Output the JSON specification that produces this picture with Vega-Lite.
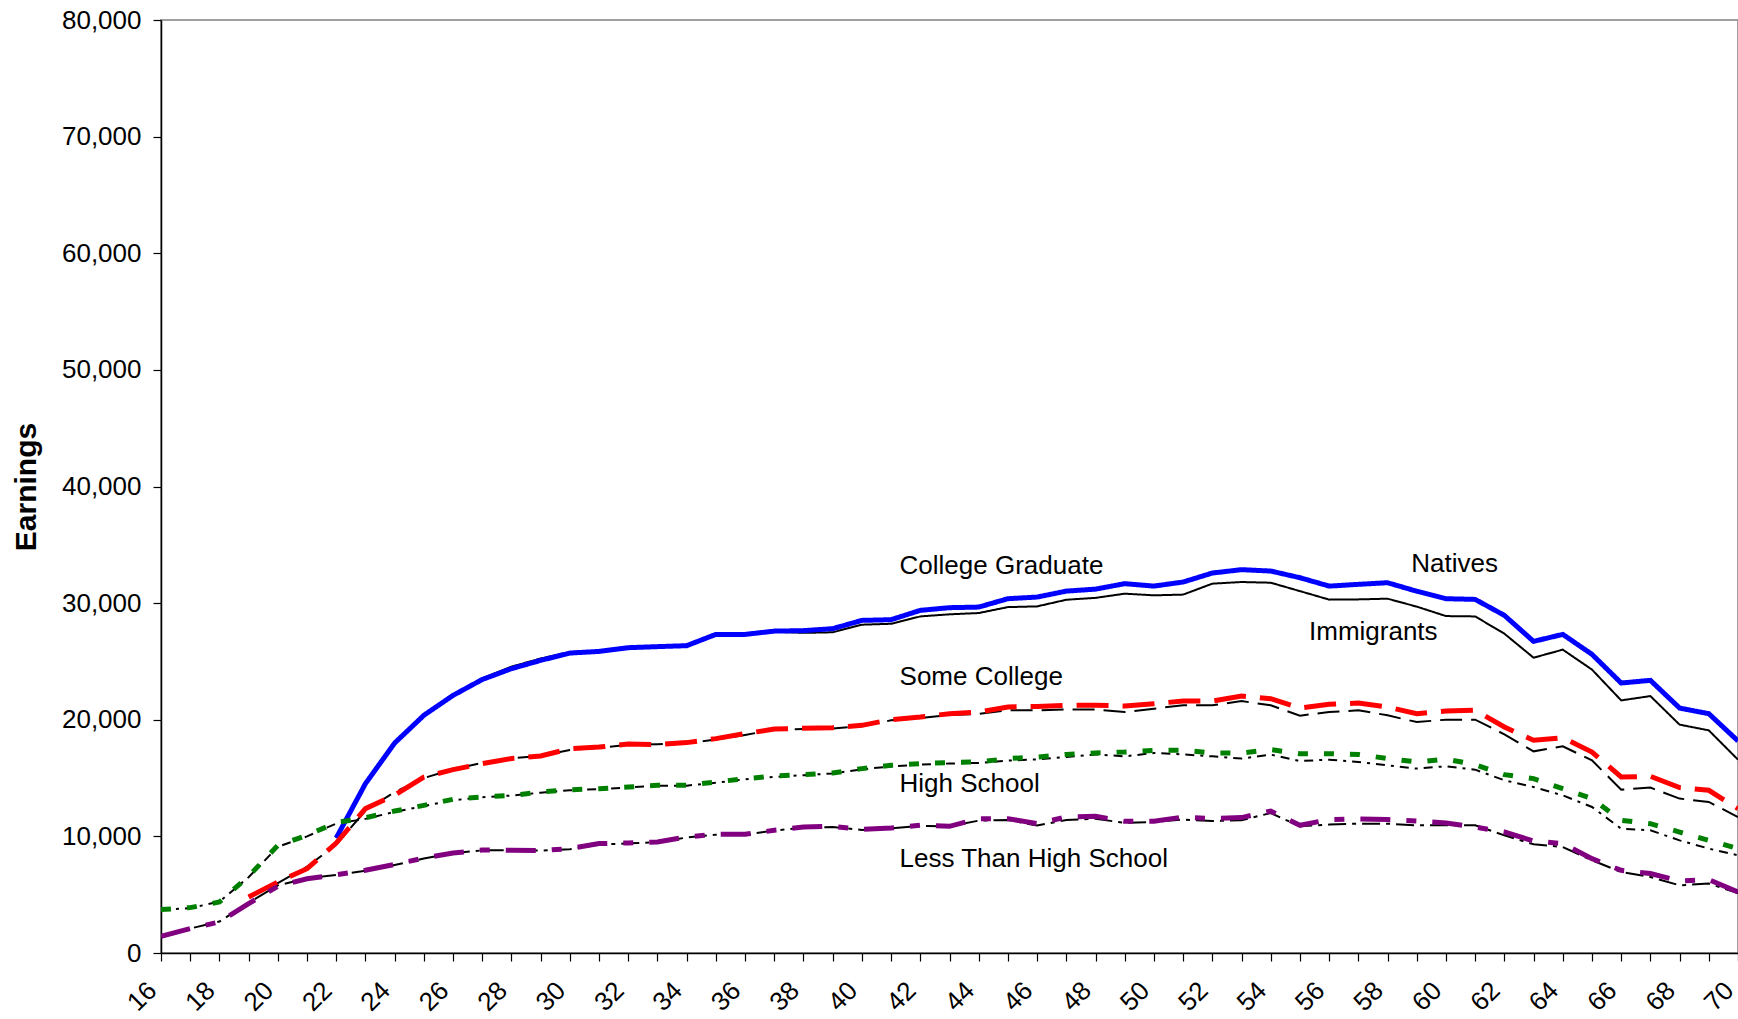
{
  "$schema": "https://vega.github.io/schema/vega-lite/v6.json",
  "width": 1577,
  "height": 933,
  "autosize": {"type": "none"},
  "padding": {"left": 161, "top": 20, "right": 0, "bottom": 66},
  "background": "white",
  "config": {
    "view": {"stroke": "#808080", "strokeWidth": 1.5},
    "font": "Liberation Sans",
    "axis": {"grid": false, "domainColor": "black", "tickColor": "black", "labelColor": "black", "titleColor": "black", "labelFont": "Liberation Sans", "titleFont": "Liberation Sans", "domainWidth": 1.5, "tickWidth": 1.2}
  },
  "datasets": {
    "earn": [
      {"age":22,"series":"Natives College","earnings":9860},{"age":23,"series":"Natives College","earnings":14520},{"age":24,"series":"Natives College","earnings":18000},{"age":25,"series":"Natives College","earnings":20380},{"age":26,"series":"Natives College","earnings":22090},{"age":27,"series":"Natives College","earnings":23450},{"age":28,"series":"Natives College","earnings":24380},{"age":29,"series":"Natives College","earnings":25090},{"age":30,"series":"Natives College","earnings":25720},{"age":31,"series":"Natives College","earnings":25860},{"age":32,"series":"Natives College","earnings":26180},{"age":33,"series":"Natives College","earnings":26270},{"age":34,"series":"Natives College","earnings":26350},{"age":35,"series":"Natives College","earnings":27320},{"age":36,"series":"Natives College","earnings":27320},{"age":37,"series":"Natives College","earnings":27600},{"age":38,"series":"Natives College","earnings":27640},{"age":39,"series":"Natives College","earnings":27810},{"age":40,"series":"Natives College","earnings":28520},{"age":41,"series":"Natives College","earnings":28580},{"age":42,"series":"Natives College","earnings":29380},{"age":43,"series":"Natives College","earnings":29610},{"age":44,"series":"Natives College","earnings":29660},{"age":45,"series":"Natives College","earnings":30380},{"age":46,"series":"Natives College","earnings":30520},{"age":47,"series":"Natives College","earnings":31030},{"age":48,"series":"Natives College","earnings":31200},{"age":49,"series":"Natives College","earnings":31670},{"age":50,"series":"Natives College","earnings":31460},{"age":51,"series":"Natives College","earnings":31810},{"age":52,"series":"Natives College","earnings":32580},{"age":53,"series":"Natives College","earnings":32870},{"age":54,"series":"Natives College","earnings":32750},{"age":55,"series":"Natives College","earnings":32180},{"age":56,"series":"Natives College","earnings":31460},{"age":57,"series":"Natives College","earnings":31610},{"age":58,"series":"Natives College","earnings":31750},{"age":59,"series":"Natives College","earnings":31020},{"age":60,"series":"Natives College","earnings":30380},{"age":61,"series":"Natives College","earnings":30320},{"age":62,"series":"Natives College","earnings":28950},{"age":63,"series":"Natives College","earnings":26720},{"age":64,"series":"Natives College","earnings":27320},{"age":65,"series":"Natives College","earnings":25610},{"age":66,"series":"Natives College","earnings":23150},{"age":67,"series":"Natives College","earnings":23380},{"age":68,"series":"Natives College","earnings":21000},{"age":69,"series":"Natives College","earnings":20520},{"age":70,"series":"Natives College","earnings":18180},

      {"age":22,"series":"Immigrants College","earnings":9860},{"age":23,"series":"Immigrants College","earnings":14520},{"age":24,"series":"Immigrants College","earnings":18000},{"age":25,"series":"Immigrants College","earnings":20380},{"age":26,"series":"Immigrants College","earnings":22090},{"age":27,"series":"Immigrants College","earnings":23550},{"age":28,"series":"Immigrants College","earnings":24550},{"age":29,"series":"Immigrants College","earnings":25250},{"age":30,"series":"Immigrants College","earnings":25800},{"age":31,"series":"Immigrants College","earnings":25900},{"age":32,"series":"Immigrants College","earnings":26150},{"age":33,"series":"Immigrants College","earnings":26250},{"age":34,"series":"Immigrants College","earnings":26300},{"age":35,"series":"Immigrants College","earnings":27300},{"age":36,"series":"Immigrants College","earnings":27300},{"age":37,"series":"Immigrants College","earnings":27550},{"age":38,"series":"Immigrants College","earnings":27450},{"age":39,"series":"Immigrants College","earnings":27500},{"age":40,"series":"Immigrants College","earnings":28150},{"age":41,"series":"Immigrants College","earnings":28230},{"age":42,"series":"Immigrants College","earnings":28860},{"age":43,"series":"Immigrants College","earnings":29040},{"age":44,"series":"Immigrants College","earnings":29150},{"age":45,"series":"Immigrants College","earnings":29660},{"age":46,"series":"Immigrants College","earnings":29720},{"age":47,"series":"Immigrants College","earnings":30290},{"age":48,"series":"Immigrants College","earnings":30450},{"age":49,"series":"Immigrants College","earnings":30810},{"age":50,"series":"Immigrants College","earnings":30670},{"age":51,"series":"Immigrants College","earnings":30730},{"age":52,"series":"Immigrants College","earnings":31670},{"age":53,"series":"Immigrants College","earnings":31810},{"age":54,"series":"Immigrants College","earnings":31750},{"age":55,"series":"Immigrants College","earnings":31030},{"age":56,"series":"Immigrants College","earnings":30300},{"age":57,"series":"Immigrants College","earnings":30320},{"age":58,"series":"Immigrants College","earnings":30380},{"age":59,"series":"Immigrants College","earnings":29700},{"age":60,"series":"Immigrants College","earnings":28890},{"age":61,"series":"Immigrants College","earnings":28860},{"age":62,"series":"Immigrants College","earnings":27380},{"age":63,"series":"Immigrants College","earnings":25320},{"age":64,"series":"Immigrants College","earnings":26010},{"age":65,"series":"Immigrants College","earnings":24300},{"age":66,"series":"Immigrants College","earnings":21660},{"age":67,"series":"Immigrants College","earnings":22030},{"age":68,"series":"Immigrants College","earnings":19580},{"age":69,"series":"Immigrants College","earnings":19090},{"age":70,"series":"Immigrants College","earnings":16580},

      {"age":19,"series":"Natives Some College","earnings":4800},{"age":20,"series":"Natives Some College","earnings":6090},{"age":21,"series":"Natives Some College","earnings":7230},{"age":22,"series":"Natives Some College","earnings":9430},{"age":23,"series":"Natives Some College","earnings":12380},{"age":24,"series":"Natives Some College","earnings":13530},{"age":25,"series":"Natives Some College","earnings":15090},{"age":26,"series":"Natives Some College","earnings":15720},{"age":27,"series":"Natives Some College","earnings":16240},{"age":28,"series":"Natives Some College","earnings":16670},{"age":29,"series":"Natives Some College","earnings":16890},{"age":30,"series":"Natives Some College","earnings":17520},{"age":31,"series":"Natives Some College","earnings":17660},{"age":32,"series":"Natives Some College","earnings":17920},{"age":33,"series":"Natives Some College","earnings":17870},{"age":34,"series":"Natives Some College","earnings":18040},{"age":35,"series":"Natives Some College","earnings":18380},{"age":36,"series":"Natives Some College","earnings":18810},{"age":37,"series":"Natives Some College","earnings":19200},{"age":38,"series":"Natives Some College","earnings":19270},{"age":39,"series":"Natives Some College","earnings":19320},{"age":40,"series":"Natives Some College","earnings":19520},{"age":41,"series":"Natives Some College","earnings":20010},{"age":42,"series":"Natives Some College","earnings":20230},{"age":43,"series":"Natives Some College","earnings":20520},{"age":44,"series":"Natives Some College","earnings":20660},{"age":45,"series":"Natives Some College","earnings":21090},{"age":46,"series":"Natives Some College","earnings":21140},{"age":47,"series":"Natives Some College","earnings":21240},{"age":48,"series":"Natives Some College","earnings":21250},{"age":49,"series":"Natives Some College","earnings":21180},{"age":50,"series":"Natives Some College","earnings":21380},{"age":51,"series":"Natives Some College","earnings":21600},{"age":52,"series":"Natives Some College","earnings":21600},{"age":53,"series":"Natives Some College","earnings":22030},{"age":54,"series":"Natives Some College","earnings":21810},{"age":55,"series":"Natives Some College","earnings":21000},{"age":56,"series":"Natives Some College","earnings":21320},{"age":57,"series":"Natives Some College","earnings":21430},{"age":58,"series":"Natives Some College","earnings":21090},{"age":59,"series":"Natives Some College","earnings":20520},{"age":60,"series":"Natives Some College","earnings":20750},{"age":61,"series":"Natives Some College","earnings":20810},{"age":62,"series":"Natives Some College","earnings":19380},{"age":63,"series":"Natives Some College","earnings":18240},{"age":64,"series":"Natives Some College","earnings":18460},{"age":65,"series":"Natives Some College","earnings":17230},{"age":66,"series":"Natives Some College","earnings":15090},{"age":67,"series":"Natives Some College","earnings":15150},{"age":68,"series":"Natives Some College","earnings":14180},{"age":69,"series":"Natives Some College","earnings":13950},{"age":70,"series":"Natives Some College","earnings":12380},

      {"age":19,"series":"Immigrants Some College","earnings":4900},{"age":20,"series":"Immigrants Some College","earnings":6000},{"age":21,"series":"Immigrants Some College","earnings":7400},{"age":22,"series":"Immigrants Some College","earnings":9300},{"age":23,"series":"Immigrants Some College","earnings":12200},{"age":24,"series":"Immigrants Some College","earnings":13800},{"age":25,"series":"Immigrants Some College","earnings":15000},{"age":26,"series":"Immigrants Some College","earnings":15750},{"age":27,"series":"Immigrants Some College","earnings":16300},{"age":28,"series":"Immigrants Some College","earnings":16700},{"age":29,"series":"Immigrants Some College","earnings":16900},{"age":30,"series":"Immigrants Some College","earnings":17400},{"age":31,"series":"Immigrants Some College","earnings":17600},{"age":32,"series":"Immigrants Some College","earnings":17850},{"age":33,"series":"Immigrants Some College","earnings":17900},{"age":34,"series":"Immigrants Some College","earnings":18000},{"age":35,"series":"Immigrants Some College","earnings":18300},{"age":36,"series":"Immigrants Some College","earnings":18700},{"age":37,"series":"Immigrants Some College","earnings":19150},{"age":38,"series":"Immigrants Some College","earnings":19200},{"age":39,"series":"Immigrants Some College","earnings":19250},{"age":40,"series":"Immigrants Some College","earnings":19450},{"age":41,"series":"Immigrants Some College","earnings":19950},{"age":42,"series":"Immigrants Some College","earnings":20150},{"age":43,"series":"Immigrants Some College","earnings":20400},{"age":44,"series":"Immigrants Some College","earnings":20500},{"age":45,"series":"Immigrants Some College","earnings":20810},{"age":46,"series":"Immigrants Some College","earnings":20810},{"age":47,"series":"Immigrants Some College","earnings":20890},{"age":48,"series":"Immigrants Some College","earnings":20870},{"age":49,"series":"Immigrants Some College","earnings":20660},{"age":50,"series":"Immigrants Some College","earnings":20950},{"age":51,"series":"Immigrants Some College","earnings":21240},{"age":52,"series":"Immigrants Some College","earnings":21240},{"age":53,"series":"Immigrants Some College","earnings":21600},{"age":54,"series":"Immigrants Some College","earnings":21240},{"age":55,"series":"Immigrants Some College","earnings":20350},{"age":56,"series":"Immigrants Some College","earnings":20660},{"age":57,"series":"Immigrants Some College","earnings":20810},{"age":58,"series":"Immigrants Some College","earnings":20380},{"age":59,"series":"Immigrants Some College","earnings":19800},{"age":60,"series":"Immigrants Some College","earnings":20010},{"age":61,"series":"Immigrants Some College","earnings":20010},{"age":62,"series":"Immigrants Some College","earnings":18750},{"age":63,"series":"Immigrants Some College","earnings":17290},{"age":64,"series":"Immigrants Some College","earnings":17720},{"age":65,"series":"Immigrants Some College","earnings":16520},{"age":66,"series":"Immigrants Some College","earnings":14010},{"age":67,"series":"Immigrants Some College","earnings":14180},{"age":68,"series":"Immigrants Some College","earnings":13240},{"age":69,"series":"Immigrants Some College","earnings":12950},{"age":70,"series":"Immigrants Some College","earnings":11660},

      {"age":16,"series":"Natives High School","earnings":3720},{"age":17,"series":"Natives High School","earnings":3890},{"age":18,"series":"Natives High School","earnings":4370},{"age":19,"series":"Natives High School","earnings":6580},{"age":20,"series":"Natives High School","earnings":9230},{"age":21,"series":"Natives High School","earnings":10090},{"age":22,"series":"Natives High School","earnings":11180},{"age":23,"series":"Natives High School","earnings":11600},{"age":24,"series":"Natives High School","earnings":12170},{"age":25,"series":"Natives High School","earnings":12660},{"age":26,"series":"Natives High School","earnings":13180},{"age":27,"series":"Natives High School","earnings":13380},{"age":28,"series":"Natives High School","earnings":13510},{"age":29,"series":"Natives High School","earnings":13800},{"age":30,"series":"Natives High School","earnings":14000},{"age":31,"series":"Natives High School","earnings":14090},{"age":32,"series":"Natives High School","earnings":14230},{"age":33,"series":"Natives High School","earnings":14380},{"age":34,"series":"Natives High School","earnings":14380},{"age":35,"series":"Natives High School","earnings":14660},{"age":36,"series":"Natives High School","earnings":14950},{"age":37,"series":"Natives High School","earnings":15170},{"age":38,"series":"Natives High School","earnings":15290},{"age":39,"series":"Natives High School","earnings":15430},{"age":40,"series":"Natives High School","earnings":15810},{"age":41,"series":"Natives High School","earnings":16090},{"age":42,"series":"Natives High School","earnings":16240},{"age":43,"series":"Natives High School","earnings":16330},{"age":44,"series":"Natives High School","earnings":16380},{"age":45,"series":"Natives High School","earnings":16670},{"age":46,"series":"Natives High School","earnings":16800},{"age":47,"series":"Natives High School","earnings":17030},{"age":48,"series":"Natives High School","earnings":17150},{"age":49,"series":"Natives High School","earnings":17230},{"age":50,"series":"Natives High School","earnings":17380},{"age":51,"series":"Natives High School","earnings":17380},{"age":52,"series":"Natives High School","earnings":17150},{"age":53,"series":"Natives High School","earnings":17150},{"age":54,"series":"Natives High School","earnings":17440},{"age":55,"series":"Natives High School","earnings":17090},{"age":56,"series":"Natives High School","earnings":17090},{"age":57,"series":"Natives High School","earnings":17030},{"age":58,"series":"Natives High School","earnings":16670},{"age":59,"series":"Natives High School","earnings":16380},{"age":60,"series":"Natives High School","earnings":16630},{"age":61,"series":"Natives High School","earnings":16150},{"age":62,"series":"Natives High School","earnings":15290},{"age":63,"series":"Natives High School","earnings":14950},{"age":64,"series":"Natives High School","earnings":14090},{"age":65,"series":"Natives High School","earnings":13240},{"age":66,"series":"Natives High School","earnings":11380},{"age":67,"series":"Natives High School","earnings":11090},{"age":68,"series":"Natives High School","earnings":10370},{"age":69,"series":"Natives High School","earnings":9660},{"age":70,"series":"Natives High School","earnings":8950},

      {"age":16,"series":"Immigrants High School","earnings":3700},{"age":17,"series":"Immigrants High School","earnings":3850},{"age":18,"series":"Immigrants High School","earnings":4400},{"age":19,"series":"Immigrants High School","earnings":6500},{"age":20,"series":"Immigrants High School","earnings":9100},{"age":21,"series":"Immigrants High School","earnings":10000},{"age":22,"series":"Immigrants High School","earnings":11100},{"age":23,"series":"Immigrants High School","earnings":11500},{"age":24,"series":"Immigrants High School","earnings":12100},{"age":25,"series":"Immigrants High School","earnings":12600},{"age":26,"series":"Immigrants High School","earnings":13100},{"age":27,"series":"Immigrants High School","earnings":13350},{"age":28,"series":"Immigrants High School","earnings":13500},{"age":29,"series":"Immigrants High School","earnings":13750},{"age":30,"series":"Immigrants High School","earnings":13950},{"age":31,"series":"Immigrants High School","earnings":14050},{"age":32,"series":"Immigrants High School","earnings":14200},{"age":33,"series":"Immigrants High School","earnings":14350},{"age":34,"series":"Immigrants High School","earnings":14350},{"age":35,"series":"Immigrants High School","earnings":14600},{"age":36,"series":"Immigrants High School","earnings":14900},{"age":37,"series":"Immigrants High School","earnings":15100},{"age":38,"series":"Immigrants High School","earnings":15250},{"age":39,"series":"Immigrants High School","earnings":15400},{"age":40,"series":"Immigrants High School","earnings":15750},{"age":41,"series":"Immigrants High School","earnings":16000},{"age":42,"series":"Immigrants High School","earnings":16150},{"age":43,"series":"Immigrants High School","earnings":16250},{"age":44,"series":"Immigrants High School","earnings":16300},{"age":45,"series":"Immigrants High School","earnings":16500},{"age":46,"series":"Immigrants High School","earnings":16600},{"age":47,"series":"Immigrants High School","earnings":16800},{"age":48,"series":"Immigrants High School","earnings":17030},{"age":49,"series":"Immigrants High School","earnings":16860},{"age":50,"series":"Immigrants High School","earnings":17150},{"age":51,"series":"Immigrants High School","earnings":17030},{"age":52,"series":"Immigrants High School","earnings":16860},{"age":53,"series":"Immigrants High School","earnings":16670},{"age":54,"series":"Immigrants High School","earnings":17010},{"age":55,"series":"Immigrants High School","earnings":16460},{"age":56,"series":"Immigrants High School","earnings":16580},{"age":57,"series":"Immigrants High School","earnings":16380},{"age":58,"series":"Immigrants High School","earnings":16090},{"age":59,"series":"Immigrants High School","earnings":15810},{"age":60,"series":"Immigrants High School","earnings":16010},{"age":61,"series":"Immigrants High School","earnings":15720},{"age":62,"series":"Immigrants High School","earnings":14810},{"age":63,"series":"Immigrants High School","earnings":14230},{"age":64,"series":"Immigrants High School","earnings":13520},{"age":65,"series":"Immigrants High School","earnings":12520},{"age":66,"series":"Immigrants High School","earnings":10660},{"age":67,"series":"Immigrants High School","earnings":10520},{"age":68,"series":"Immigrants High School","earnings":9660},{"age":69,"series":"Immigrants High School","earnings":8950},{"age":70,"series":"Immigrants High School","earnings":8380},

      {"age":16,"series":"Natives Less Than HS","earnings":1430},{"age":17,"series":"Natives Less Than HS","earnings":2090},{"age":18,"series":"Natives Less Than HS","earnings":2660},{"age":19,"series":"Natives Less Than HS","earnings":4230},{"age":20,"series":"Natives Less Than HS","earnings":5720},{"age":21,"series":"Natives Less Than HS","earnings":6370},{"age":22,"series":"Natives Less Than HS","earnings":6710},{"age":23,"series":"Natives Less Than HS","earnings":7090},{"age":24,"series":"Natives Less Than HS","earnings":7600},{"age":25,"series":"Natives Less Than HS","earnings":8140},{"age":26,"series":"Natives Less Than HS","earnings":8570},{"age":27,"series":"Natives Less Than HS","earnings":8830},{"age":28,"series":"Natives Less Than HS","earnings":8810},{"age":29,"series":"Natives Less Than HS","earnings":8780},{"age":30,"series":"Natives Less Than HS","earnings":8950},{"age":31,"series":"Natives Less Than HS","earnings":9380},{"age":32,"series":"Natives Less Than HS","earnings":9430},{"age":33,"series":"Natives Less Than HS","earnings":9520},{"age":34,"series":"Natives Less Than HS","earnings":9950},{"age":35,"series":"Natives Less Than HS","earnings":10180},{"age":36,"series":"Natives Less Than HS","earnings":10180},{"age":37,"series":"Natives Less Than HS","earnings":10520},{"age":38,"series":"Natives Less Than HS","earnings":10800},{"age":39,"series":"Natives Less Than HS","earnings":10860},{"age":40,"series":"Natives Less Than HS","earnings":10600},{"age":41,"series":"Natives Less Than HS","earnings":10720},{"age":42,"series":"Natives Less Than HS","earnings":10950},{"age":43,"series":"Natives Less Than HS","earnings":10860},{"age":44,"series":"Natives Less Than HS","earnings":11520},{"age":45,"series":"Natives Less Than HS","earnings":11520},{"age":46,"series":"Natives Less Than HS","earnings":11090},{"age":47,"series":"Natives Less Than HS","earnings":11660},{"age":48,"series":"Natives Less Than HS","earnings":11720},{"age":49,"series":"Natives Less Than HS","earnings":11290},{"age":50,"series":"Natives Less Than HS","earnings":11290},{"age":51,"series":"Natives Less Than HS","earnings":11660},{"age":52,"series":"Natives Less Than HS","earnings":11520},{"age":53,"series":"Natives Less Than HS","earnings":11610},{"age":54,"series":"Natives Less Than HS","earnings":12170},{"age":55,"series":"Natives Less Than HS","earnings":10950},{"age":56,"series":"Natives Less Than HS","earnings":11440},{"age":57,"series":"Natives Less Than HS","earnings":11490},{"age":58,"series":"Natives Less Than HS","earnings":11440},{"age":59,"series":"Natives Less Than HS","earnings":11320},{"age":60,"series":"Natives Less Than HS","earnings":11150},{"age":61,"series":"Natives Less Than HS","earnings":10800},{"age":62,"series":"Natives Less Than HS","earnings":10370},{"age":63,"series":"Natives Less Than HS","earnings":9600},{"age":64,"series":"Natives Less Than HS","earnings":9380},{"age":65,"series":"Natives Less Than HS","earnings":8090},{"age":66,"series":"Natives Less Than HS","earnings":7090},{"age":67,"series":"Natives Less Than HS","earnings":6810},{"age":68,"series":"Natives Less Than HS","earnings":6170},{"age":69,"series":"Natives Less Than HS","earnings":6290},{"age":70,"series":"Natives Less Than HS","earnings":5230},

      {"age":16,"series":"Immigrants Less Than HS","earnings":1450},{"age":17,"series":"Immigrants Less Than HS","earnings":2100},{"age":18,"series":"Immigrants Less Than HS","earnings":2700},{"age":19,"series":"Immigrants Less Than HS","earnings":4300},{"age":20,"series":"Immigrants Less Than HS","earnings":5800},{"age":21,"series":"Immigrants Less Than HS","earnings":6400},{"age":22,"series":"Immigrants Less Than HS","earnings":6700},{"age":23,"series":"Immigrants Less Than HS","earnings":7050},{"age":24,"series":"Immigrants Less Than HS","earnings":7550},{"age":25,"series":"Immigrants Less Than HS","earnings":8100},{"age":26,"series":"Immigrants Less Than HS","earnings":8550},{"age":27,"series":"Immigrants Less Than HS","earnings":8800},{"age":28,"series":"Immigrants Less Than HS","earnings":8800},{"age":29,"series":"Immigrants Less Than HS","earnings":8780},{"age":30,"series":"Immigrants Less Than HS","earnings":8900},{"age":31,"series":"Immigrants Less Than HS","earnings":9300},{"age":32,"series":"Immigrants Less Than HS","earnings":9400},{"age":33,"series":"Immigrants Less Than HS","earnings":9500},{"age":34,"series":"Immigrants Less Than HS","earnings":9900},{"age":35,"series":"Immigrants Less Than HS","earnings":10150},{"age":36,"series":"Immigrants Less Than HS","earnings":10150},{"age":37,"series":"Immigrants Less Than HS","earnings":10500},{"age":38,"series":"Immigrants Less Than HS","earnings":10750},{"age":39,"series":"Immigrants Less Than HS","earnings":10800},{"age":40,"series":"Immigrants Less Than HS","earnings":10550},{"age":41,"series":"Immigrants Less Than HS","earnings":10700},{"age":42,"series":"Immigrants Less Than HS","earnings":10900},{"age":43,"series":"Immigrants Less Than HS","earnings":10860},{"age":44,"series":"Immigrants Less Than HS","earnings":11350},{"age":45,"series":"Immigrants Less Than HS","earnings":11400},{"age":46,"series":"Immigrants Less Than HS","earnings":10930},{"age":47,"series":"Immigrants Less Than HS","earnings":11400},{"age":48,"series":"Immigrants Less Than HS","earnings":11520},{"age":49,"series":"Immigrants Less Than HS","earnings":11150},{"age":50,"series":"Immigrants Less Than HS","earnings":11230},{"age":51,"series":"Immigrants Less Than HS","earnings":11440},{"age":52,"series":"Immigrants Less Than HS","earnings":11320},{"age":53,"series":"Immigrants Less Than HS","earnings":11380},{"age":54,"series":"Immigrants Less Than HS","earnings":12000},{"age":55,"series":"Immigrants Less Than HS","earnings":10860},{"age":56,"series":"Immigrants Less Than HS","earnings":11010},{"age":57,"series":"Immigrants Less Than HS","earnings":11090},{"age":58,"series":"Immigrants Less Than HS","earnings":11090},{"age":59,"series":"Immigrants Less Than HS","earnings":10950},{"age":60,"series":"Immigrants Less Than HS","earnings":10950},{"age":61,"series":"Immigrants Less Than HS","earnings":10950},{"age":62,"series":"Immigrants Less Than HS","earnings":10090},{"age":63,"series":"Immigrants Less Than HS","earnings":9320},{"age":64,"series":"Immigrants Less Than HS","earnings":9090},{"age":65,"series":"Immigrants Less Than HS","earnings":7950},{"age":66,"series":"Immigrants Less Than HS","earnings":6940},{"age":67,"series":"Immigrants Less Than HS","earnings":6520},{"age":68,"series":"Immigrants Less Than HS","earnings":5800},{"age":69,"series":"Immigrants Less Than HS","earnings":5950},{"age":70,"series":"Immigrants Less Than HS","earnings":5140}
    ],
    "labels": [
      {"age":41.29,"earnings":32530,"text":"College Graduate"},
      {"age":41.29,"earnings":22950,"text":"Some College"},
      {"age":41.29,"earnings":13800,"text":"High School"},
      {"age":41.29,"earnings":7370,"text":"Less Than High School"},
      {"age":58.81,"earnings":32660,"text":"Natives"},
      {"age":55.31,"earnings":26810,"text":"Immigrants"}
    ]
  },
  "encoding": {
    "x": {
      "field": "age", "type": "quantitative",
      "scale": {"domain": [16, 70], "nice": false, "zero": false},
      "axis": {
        "title": null,
        "values": [16,17,18,19,20,21,22,23,24,25,26,27,28,29,30,31,32,33,34,35,36,37,38,39,40,41,42,43,44,45,46,47,48,49,50,51,52,53,54,55,56,57,58,59,60,61,62,63,64,65,66,67,68,69,70],
        "format": "d",
        "labelExpr": "datum.value % 2 === 0 ? datum.label : ''",
        "labelAngle": -45,
        "labelAlign": "right",
        "labelBaseline": "middle",
        "labelFontSize": 26,
        "labelPadding": 25,
        "labelOffset": -9,
        "tickSize": 8,
        "labelOverlap": false,
        "labelBound": false,
        "labelFlush": false
      }
    },
    "y": {
      "field": "earnings", "type": "quantitative",
      "scale": {"domain": [0, 80000], "nice": false},
      "axis": {
        "title": "Earnings",
        "titleFontSize": 30,
        "titleFontWeight": "bold",
        "titlePadding": 20,
        "values": [0,10000,20000,30000,40000,50000,60000,70000,80000],
        "format": ",d",
        "labelFontSize": 26,
        "labelPadding": 12,
        "tickSize": 8,
        "labelFlush": false
      }
    }
  },
  "layer": [
    {
      "data": {"name": "earn"},
      "transform": [{"filter": "indexof(datum.series, 'Immigrants') === 0"}],
      "mark": {"type": "line", "strokeWidth": 2, "strokeCap": "butt", "clip": true},
      "encoding": {
        "color": {"field": "series", "type": "nominal", "legend": null,
          "scale": {"domain": ["Immigrants College","Immigrants Some College","Immigrants High School","Immigrants Less Than HS","Natives College","Natives Some College","Natives High School","Natives Less Than HS"],
                    "range": ["#000000","#000000","#000000","#000000","#0000FF","#FF0000","#008000","#800080"]}},
        "strokeDash": {"field": "series", "type": "nominal", "legend": null,
          "scale": {"domain": ["Immigrants College","Immigrants Some College","Immigrants High School","Immigrants Less Than HS","Natives College","Natives Some College","Natives High School","Natives Less Than HS"],
                    "range": [[1,0],[22,9],[9,6,3,6],[18,6,4,6],[1,0],[32,14],[10,16],[30,16,10,16]]}}
      }
    },
    {
      "data": {"name": "earn"},
      "transform": [{"filter": "indexof(datum.series, 'Natives') === 0"}],
      "mark": {"type": "line", "strokeWidth": 5, "strokeCap": "butt", "clip": true},
      "encoding": {
        "color": {"field": "series", "type": "nominal", "legend": null},
        "strokeDash": {"field": "series", "type": "nominal", "legend": null}
      }
    },
    {
      "data": {"name": "labels"},
      "mark": {"type": "text", "align": "left", "baseline": "alphabetic", "fontSize": 26, "font": "Liberation Sans", "color": "black"},
      "encoding": {"text": {"field": "text"}}
    }
  ]
}
